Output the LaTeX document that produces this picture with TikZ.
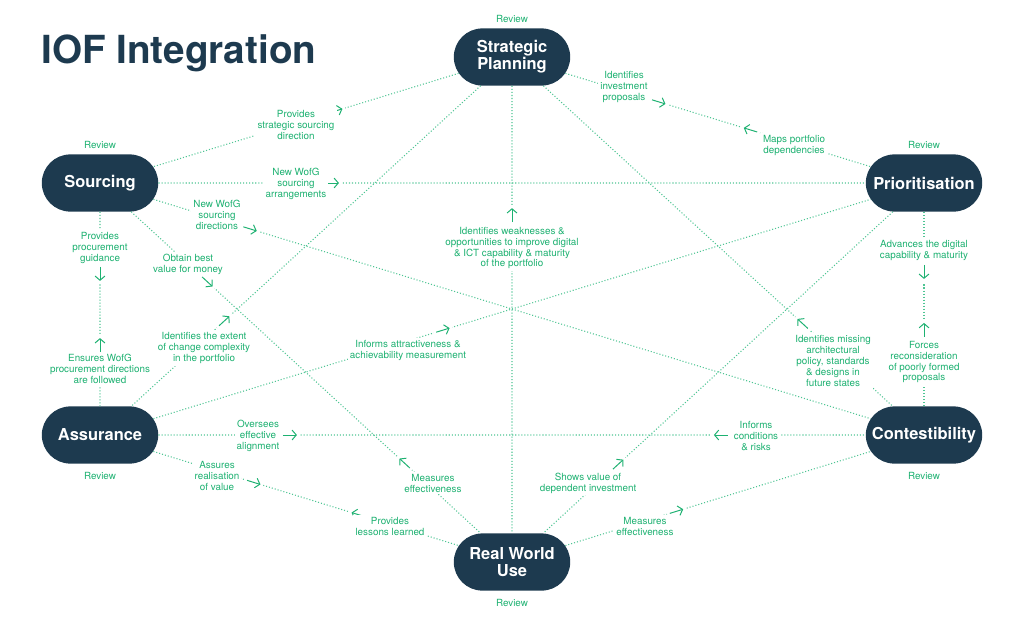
\documentclass[tikz,border=0pt]{standalone}
\usepackage{fontspec}
\setmainfont{TeX Gyre Heros}
\usetikzlibrary{arrows.meta,positioning,calc,shapes.misc}
\definecolor{iofnavy}{HTML}{1D3A4F}
\definecolor{iofgreen}{HTML}{1DB171}
\definecolor{ioflink}{HTML}{4FC594}

\begin{document}
\begin{tikzpicture}[x=0.025cm, y=-0.025cm,
  stage/.style={rounded rectangle, fill=iofnavy, text=white, minimum width=3.05cm, minimum height=1.43cm, inner sep=2pt, align=center, font=\fontsize{11.7}{12}\selectfont\bfseries},
  review/.style={text=iofgreen, inner sep=1pt, font=\fontsize{7}{7.8}\selectfont},
  lbl/.style={text=iofgreen, fill=white, inner sep=1.5pt, align=center, font=\fontsize{7}{7.8}\selectfont},
  link/.style={draw=ioflink, line width=0.75pt, dash pattern=on 0.75pt off 1.4pt},
  flow/.style={draw=iofgreen, line width=0.7pt, -{Straight Barb[length=3pt,width=7pt]}}]
  \useasboundingbox (0,0) rectangle (1024,620);
  % title
  \node[anchor=base west, inner sep=0, text=iofnavy, font=\fontsize{27.5}{30}\selectfont\bfseries] (title) at (41,63) {IOF Integration};
  % stages
  \node[stage] (sp) at (512,57) {Strategic\\Planning};
  \node[stage] (src) at (100,183) {Sourcing};
  \node[stage] (pri) at (924,183) {Prioritisation};
  \node[stage] (asr) at (100,435) {Assurance};
  \node[stage] (con) at (924,435) {Contestibility};
  \node[stage] (rwu) at (512,562) {Real World\\Use};
  % reviews
  \node[review, above=3pt of sp] (sp-rev) {Review};
  \node[review, above=3pt of src] (src-rev) {Review};
  \node[review, above=3pt of pri] (pri-rev) {Review};
  \node[review, below=4.5pt of asr] (asr-rev) {Review};
  \node[review, below=4.5pt of con] (con-rev) {Review};
  \node[review, below=4.5pt of rwu] (rwu-rev) {Review};
  % links, every stage with every other
  \foreach \a/\b in {sp/src,sp/pri,sp/asr,sp/con,sp/rwu,src/pri,src/con,src/rwu,src/asr,asr/pri,asr/con,asr/rwu,pri/con,pri/rwu,rwu/con}
    \draw[link] (\a) -- (\b);
  % arrows: from / towards / where
  \foreach \a/\b/\f in {src/sp/0.556, sp/pri/0.34, pri/sp/0.405, src/pri/0.273, src/con/0.174,
      src/rwu/0.248, rwu/src/0.248, src/asr/0.333, asr/src/0.329, asr/sp/0.289, asr/pri/0.408,
      asr/con/0.222, con/asr/0.238, asr/rwu/0.357, rwu/asr/0.357, rwu/con/0.383, rwu/sp/0.673,
      pri/con/0.325, con/pri/0.389, con/sp/0.282, rwu/pri/0.245} {
    \coordinate (tail) at ($(\a)!\f!(\b)$);
    \draw[white, line width=4pt, shorten <=-2pt, shorten >=-2pt] (tail) -- ($(tail)!0.35cm!(\b)$);
    \draw[flow] (tail) -- ($(tail)!0.35cm!(\b)$);
  }
  % labels
  \node[lbl] (sourcing-dir) at (296,125) {Provides\\strategic sourcing\\direction};
  \node[lbl] (invest) at (624,87) {Identifies\\investment\\proposals};
  \node[lbl] (depend) at (794,145) {Maps portfolio\\dependencies};
  \node[lbl] (arrange) at (296,184) {New WofG\\sourcing\\arrangements};
  \node[lbl] (directions) at (217,215) {New WofG\\sourcing\\directions};
  \node[lbl] (value) at (188,264) {Obtain best\\value for money};
  \node[lbl] (measures-l) at (433,483) {Measures\\effectiveness};
  \node[lbl] (guidance) at (100,248) {Provides\\procurement\\guidance};
  \node[lbl] (ensures) at (100,369) {Ensures WofG\\procurement directions\\are followed};
  \node[lbl] (extent) at (204,348) {Identifies the extent\\of change complexity\\in the portfolio};
  \node[lbl] (attract) at (408,350) {Informs attractiveness \&\\achievability measurement};
  \node[lbl] (oversees) at (258,436) {Oversees\\effective\\alignment};
  \node[lbl] (conditions) at (756,436) {Informs\\conditions\\\& risks};
  \node[lbl] (realise) at (217,476) {Assures\\realisation\\of value};
  \node[lbl] (lessons) at (390,526) {Provides\\lessons learned};
  \node[lbl] (measures-r) at (645,526) {Measures\\effectiveness};
  \node[lbl] (weak) at (512,248) {Identifies weaknesses \&\\opportunities to improve digital\\\& ICT capability \& maturity\\of the portfolio};
  \node[lbl] (advances) at (924,250) {Advances the digital\\capability \& maturity};
  \node[lbl] (forces) at (924,362) {Forces\\reconsideration\\of poorly formed\\proposals};
  \node[lbl] (missing) at (833,361) {Identifies missing\\architectural\\policy, standards\\\& designs in\\future states};
  \node[lbl] (shows) at (588,483) {Shows value of\\dependent investment};
\end{tikzpicture}
\end{document}
